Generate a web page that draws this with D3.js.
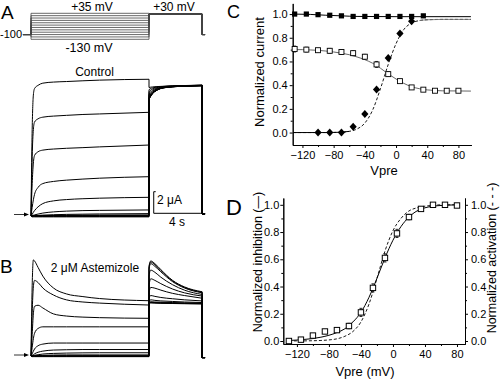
<!DOCTYPE html>
<html><head><meta charset="utf-8">
<script src="https://cdn.jsdelivr.net/npm/d3@7"></script>
<style>
body{margin:0;background:#fff}
svg{display:block}
text{font-family:"Liberation Sans",Arial,Helvetica,sans-serif;fill:#000}
</style></head>
<body><svg id="fig" width="500" height="380"></svg>
<script>
// ================= DATA =================
// Panel A protocol: prepulse levels (mV)
const protocolLevels = [-130,-115,-100,-85,-70,-55,-40,-25,-10,5,20,35];
const holdingV = -100;
const tailV = 30;
// sample times (s) for step currents
const stepTimes = [0, 0.1, 0.2, 0.3, 0.6, 1.0, 1.9, 3.0, 4.4, 5.8, 10];
// Control currents (µA), one row per prepulse level (same order as protocolLevels)
const controlStep = [
  [0,-0.08,-0.08,-0.08,-0.08,-0.08,-0.08,-0.08,-0.08,-0.08,-0.08],
  [0,-0.04,-0.04,-0.04,-0.04,-0.04,-0.04,-0.04,-0.04,-0.04,-0.04],
  [0,0,0,0,0,0,0,0,0,0,0],
  [0,0.04,0.04,0.04,0.04,0.04,0.04,0.04,0.04,0.04,0.04],
  [0,0,0.01,0.01,0.02,0.03,0.05,0.07,0.08,0.09,0.1],
  [0,0.01,0.02,0.03,0.05,0.08,0.12,0.15,0.17,0.19,0.22],
  [0,0.03,0.07,0.1,0.18,0.27,0.38,0.45,0.5,0.52,0.56],
  [0,0.15,0.35,0.5,0.85,1.15,1.4,1.52,1.6,1.65,1.73],
  [0,0.8,1.5,2.0,2.65,3.0,3.2,3.32,3.42,3.5,3.64],
  [0,3.0,4.9,5.6,5.95,6.1,6.2,6.27,6.33,6.4,6.57],
  [0,5.5,8.0,8.7,9.0,9.15,9.25,9.32,9.4,9.45,9.6],
  [0,8.0,11.2,11.8,12.1,12.3,12.4,12.45,12.52,12.58,12.66]
];
const tailTimes = [10, 10.1, 10.3, 10.6, 11, 12, 13, 14.5];
const controlTail = [
  [10.8,11.0,11.32,11.6,11.8,11.96,12.02,12.06],
  [10.82,11.02,11.34,11.61,11.81,11.96,12.02,12.06],
  [10.84,11.04,11.35,11.62,11.82,11.97,12.03,12.07],
  [10.86,11.06,11.37,11.63,11.82,11.97,12.03,12.07],
  [10.88,11.08,11.38,11.63,11.83,11.98,12.04,12.08],
  [10.9,11.1,11.4,11.64,11.83,11.98,12.04,12.08],
  [11.0,11.2,11.46,11.68,11.85,11.99,12.04,12.08],
  [11.15,11.32,11.55,11.74,11.88,12.0,12.05,12.09],
  [11.3,11.45,11.65,11.8,11.92,12.02,12.06,12.1],
  [11.5,11.62,11.76,11.87,11.95,12.03,12.07,12.1],
  [11.7,11.78,11.86,11.93,11.98,12.04,12.07,12.11],
  [11.9,11.92,11.95,11.98,12.0,12.05,12.08,12.12]
];
const controlPost = 0.2;
// Astemizole currents (µA)
const astemStep = [
  [0,-0.06,-0.06,-0.06,-0.06,-0.06,-0.06,-0.06,-0.06,-0.06,-0.06],
  [0,-0.03,-0.03,-0.03,-0.03,-0.03,-0.03,-0.03,-0.03,-0.03,-0.03],
  [0,0,0,0,0,0,0,0,0,0,0],
  [0,0.03,0.03,0.03,0.03,0.03,0.03,0.03,0.03,0.03,0.03],
  [0,0,0.01,0.02,0.04,0.06,0.09,0.1,0.1,0.1,0.1],
  [0,0.02,0.04,0.07,0.12,0.18,0.24,0.27,0.29,0.3,0.3],
  [0,0.05,0.12,0.2,0.35,0.45,0.55,0.58,0.6,0.6,0.6],
  [0,0.2,0.45,0.65,0.95,1.1,1.2,1.2,1.2,1.2,1.2],
  [0,0.8,1.6,2.1,2.55,2.7,2.7,2.7,2.7,2.7,2.7],
  [0,2.0,3.9,4.6,4.7,4.45,3.9,3.7,3.6,3.55,3.49],
  [0,4.0,6.4,7.0,6.8,6.3,5.65,5.2,5.0,4.9,4.72],
  [0,6.5,8.9,8.8,8.2,7.4,6.3,5.75,5.5,5.32,5.12]
];
const astemTailTimes = [10, 10.08, 10.15, 10.5, 11, 12, 13, 14.5];
const astemTail = [
  [4.8,4.9,4.92,4.9,4.88,4.86,4.84,4.82],
  [4.82,4.92,4.94,4.92,4.9,4.88,4.86,4.84],
  [4.85,4.95,4.97,4.95,4.93,4.9,4.88,4.86],
  [4.9,5.0,5.02,5.0,4.98,4.95,4.92,4.9],
  [5.0,5.15,5.2,5.15,5.1,5.05,5.0,4.95],
  [5.3,5.55,5.6,5.52,5.42,5.3,5.2,5.1],
  [5.9,6.25,6.35,6.28,6.1,5.8,5.6,5.35],
  [6.6,7.0,7.15,7.0,6.7,6.2,5.85,5.55],
  [7.4,7.85,7.95,7.75,7.3,6.6,6.1,5.7],
  [8.0,8.45,8.55,8.3,7.8,6.88,6.3,5.85],
  [8.2,8.6,8.7,8.45,7.92,6.95,6.35,5.9],
  [8.3,8.7,8.8,8.55,8.0,7.0,6.4,5.95]
];
const astemPost = -0.15;
// scale bars: 2 µA, 4 s
const scaleBarI = 2;
const scaleBarT = 4;

// Panel C
const cFilledV = [-130,-115,-100,-85,-70,-55,-40,-25,-10,5,20,35];
const cFilledI = [1.0,1.0,0.995,0.99,0.985,0.98,0.98,0.98,0.98,0.98,0.98,0.985];
const cFilledFitV = [-132,-110,-90,-70,-50,0,96];
const cFilledFitI = [1.0,0.997,0.99,0.985,0.98,0.978,0.978];
const cOpenV = [-130,-115,-100,-85,-70,-55,-40,-25,-10,5,20,35,50,65,80];
const cOpenI = [0.705,0.70,0.695,0.69,0.68,0.67,0.64,0.575,0.493,0.434,0.381,0.362,0.353,0.353,0.353];
const cOpenErr = [0.025,0.02,0.015,0.02,0.02,0.02,0.02,0.025,0.02,0.012,0.01,0.008,0.008,0.008,0.008];
const cOpenFitV = [-132,-120,-110,-100,-90,-80,-70,-60,-50,-40,-30,-20,-10,0,10,20,30,40,50,60,80,96];
const cOpenFitI = [0.70,0.70,0.697,0.694,0.688,0.68,0.67,0.657,0.638,0.615,0.585,0.543,0.495,0.452,0.415,0.387,0.37,0.36,0.355,0.352,0.351,0.35];
const cDiamV = [-100,-85,-70,-55,-40,-25,-10,5,20];
const cDiamI = [0.0,0.0,0.0,0.049,0.156,0.364,0.63,0.837,0.94];
const cActFitV = [-132,-90,-80,-70,-60,-50,-40,-30,-20,-10,0,10,20,30,40,60,96];
const cActFitI = [0,0,0.001,0.003,0.01,0.03,0.08,0.19,0.37,0.575,0.75,0.87,0.925,0.945,0.952,0.955,0.955];

// Panel D
const dV = [-130,-115,-100,-85,-70,-55,-40,-25,-10,5,20,35,50,65,80];
const dInhib = [0.0,0.01,0.04,0.07,0.08,0.11,0.21,0.39,0.61,0.79,0.91,0.97,1.0,1.0,0.995];
const dErr = [0.008,0.008,0.01,0.012,0.012,0.02,0.03,0.03,0.03,0.03,0.02,0.01,0.01,0.008,0.008];
const dFitV = [-130,-120,-110,-100,-90,-80,-70,-60,-50,-40,-30,-20,-10,0,10,20,30,40,50,60,70,80];
const dInhibFit = [0.004,0.007,0.012,0.018,0.028,0.042,0.062,0.09,0.14,0.21,0.32,0.46,0.61,0.74,0.84,0.91,0.955,0.978,0.99,0.995,0.998,1.0];
const dActFit = [0,0.001,0.001,0.002,0.004,0.008,0.016,0.035,0.07,0.14,0.27,0.46,0.66,0.81,0.9,0.955,0.978,0.99,0.996,1.0,1.0,1.0];

const ticksC = [-120,-80,-40,0,40,80];
const ticksY = [0,0.2,0.4,0.6,0.8,1.0];

// ================= DRAW =================
const svg = d3.select("#fig");
svg.append("rect").attr("width",500).attr("height",380).attr("fill","#fff");

// ---- time/voltage/current scales for A & B ----
const tS = d3.scaleLinear().domain([0,10]).range([31,149]);
const vS = d3.scaleLinear().domain([-130,35]).range([39.3,13.3]);
const iA = d3.scaleLinear().domain([0,1]).range([216,205.2]);
const iB = d3.scaleLinear().domain([0,1]).range([356,345.2]);

function txt(x,y,s,size,anchor){
  return svg.append("text").attr("x",x).attr("y",y).attr("font-size",size)
    .attr("text-anchor",anchor||"start").text(s);
}

// protocol
const gP = svg.append("g");
const lineP = d3.line().x(d=>tS(d[0])).y(d=>vS(d[1]));
protocolLevels.forEach(v=>{
  const pts = [[-0.68,holdingV],[0,holdingV],[0,v],[10,v],[10,tailV],[14.5,tailV],[14.5,holdingV],[14.75,holdingV]];
  gP.append("path").attr("d",lineP(pts)).attr("fill","none").attr("stroke","#444").attr("stroke-width",0.8);
});
txt(1,19,"A",19);
txt(92,11,"+35 mV",12,"middle");
txt(174,11,"+30 mV",12,"middle");
txt(89,52,"-130 mV",12.5,"middle");
txt(11,38,"-100",11,"middle");

function drawTraces(yS, stepVals, tailT, tailVals, post){
  const g = svg.append("g");
  const lc = d3.line().x(d=>tS(d[0])).y(d=>yS(d[1])).curve(d3.curveMonotoneX);
  const ll = d3.line().x(d=>tS(d[0])).y(d=>yS(d[1]));
  stepVals.forEach((sv,k)=>{
    const step = stepTimes.map((t,i)=>[t,sv[i]]);
    const tail = tailT.map((t,i)=>[t,tailVals[k][i]]);
    [lc(step), lc(tail), ll([step[step.length-1],tail[0]]),
     ll([tail[tail.length-1],[14.5,post],[14.75,post]])].forEach(d=>{
      g.append("path").attr("d",d).attr("fill","none").attr("stroke","#000").attr("stroke-width",1);
    });
  });
}
drawTraces(iA, controlStep, tailTimes, controlTail, controlPost);
drawTraces(iB, astemStep, astemTailTimes, astemTail, astemPost);

txt(94.5,76,"Control",12,"middle");
txt(0,273,"B",19);
txt(95,272,"2 \u03bcM Astemizole",12,"middle");

// arrows
function arrow(y){
  svg.append("line").attr("x1",14).attr("x2",25).attr("y1",y).attr("y2",y).attr("stroke","#000").attr("stroke-width",0.8);
  svg.append("path").attr("d",`M${29},${y}L${24},${y-2}L${24},${y+2}Z`).attr("fill","#000");
}
arrow(iA(0)-1.5);
arrow(iB(0)-1);

// scale bars (2 µA vertical, 4 s horizontal)
const sbX = tS(10.4);
const sbBase = iA(0.25);
const sbTop = sbBase - (iA(0) - iA(scaleBarI));
svg.append("path").attr("d",`M${sbX+2},${sbTop}H${sbX}V${sbBase}H${sbX+tS(scaleBarT)-tS(0)}`)
  .attr("fill","none").attr("stroke","#000").attr("stroke-width",1);
txt(157,204,"2 \u03bcA",12);
txt(177,226,"4 s",12,"middle");

// ---------- Panel C ----------
const xC = d3.scaleLinear().domain([-132.5,96.5]).range([292.7,471.3]);
const yC = d3.scaleLinear().domain([-0.105,1.09]).range([145,3.4]);
const gC = svg.append("g");
function styleAxis(g){
  g.selectAll("path,line").attr("stroke","#000").attr("stroke-width",1);
  g.selectAll("text").attr("font-size",11).attr("font-family",'"Liberation Sans",Arial,sans-serif');
}
gC.append("g").attr("transform",`translate(0,145)`)
  .call(d3.axisBottom(xC).tickValues(ticksC).tickSize(3).tickPadding(3).tickSizeOuter(0))
  .call(styleAxis);
gC.append("g").attr("transform",`translate(0,145)`)
  .call(d3.axisBottom(xC).tickValues([-100,-60,-20,20,60]).tickSize(2).tickFormat("").tickSizeOuter(0))
  .call(styleAxis);
gC.append("g").attr("transform",`translate(292.7,0)`)
  .call(d3.axisLeft(yC).tickValues(ticksY).tickFormat(d3.format(".1f")).tickSize(3).tickPadding(2).tickSizeOuter(0))
  .call(styleAxis);
gC.append("g").attr("transform",`translate(292.7,0)`)
  .call(d3.axisLeft(yC).tickValues([0.1,0.3,0.5,0.7,0.9]).tickFormat("").tickSize(2).tickSizeOuter(0))
  .call(styleAxis);
txt(227,18,"C",18);
txt(384,175,"Vpre",13,"middle");
svg.append("text").attr("transform","translate(264,72) rotate(-90)").attr("text-anchor","middle")
  .attr("font-size",13).text("Normalized current");

const lineCv = d3.line().x(d=>xC(d[0])).y(d=>yC(d[1])).curve(d3.curveMonotoneX);
gC.append("path").attr("d",lineCv(cFilledFitV.map((v,i)=>[v,cFilledFitI[i]])))
  .attr("fill","none").attr("stroke","#000").attr("stroke-width",1);
gC.append("path").attr("d",lineCv(cOpenFitV.map((v,i)=>[v,cOpenFitI[i]])))
  .attr("fill","none").attr("stroke","#555").attr("stroke-width",0.9);
const actPts = cActFitV.map((v,i)=>[v,cActFitI[i]]);
gC.append("path").attr("d",lineCv(actPts.filter(d=>d[0]<=-60)))
  .attr("fill","none").attr("stroke","#000").attr("stroke-width",1);
gC.append("path").attr("d",lineCv(actPts))
  .attr("fill","none").attr("stroke","#000").attr("stroke-width",0.9).attr("stroke-dasharray","3,2");
gC.append("path").attr("d",lineCv(actPts.filter(d=>d[0]>=30)))
  .attr("fill","none").attr("stroke","#777").attr("stroke-width",0.9);
cOpenV.forEach((v,i)=>{
  const x=xC(v), y1=yC(cOpenI[i]-cOpenErr[i]), y2=yC(cOpenI[i]+cOpenErr[i]);
  gC.append("path").attr("d",`M${x},${y1}V${y2}M${x-1.5},${y1}H${x+1.5}M${x-1.5},${y2}H${x+1.5}`)
    .attr("stroke","#000").attr("stroke-width",0.8).attr("fill","none");
});
cOpenV.forEach((v,i)=>{
  gC.append("rect").attr("x",xC(v)-2.5).attr("y",yC(cOpenI[i])-2.5).attr("width",5).attr("height",5)
    .attr("fill","#fff").attr("stroke","#000").attr("stroke-width",0.9);
});
cFilledV.forEach((v,i)=>{
  gC.append("rect").attr("x",xC(v)-2.6).attr("y",yC(cFilledI[i])-2.6).attr("width",5.2).attr("height",5.2)
    .attr("fill","#000");
});
cDiamV.forEach((v,i)=>{
  const x=xC(v), y=yC(cDiamI[i]);
  gC.append("path").attr("d",`M${x},${y-4}L${x+3.6},${y}L${x},${y+4}L${x-3.6},${y}Z`).attr("fill","#000");
});

// ---------- Panel D ----------
const xD = d3.scaleLinear().domain([-137,90]).range([283.3,465]);
const yD = d3.scaleLinear().domain([-0.022,1.05]).range([344,198]);
const gD = svg.append("g");
gD.append("g").attr("transform",`translate(0,344)`)
  .call(d3.axisBottom(xD).tickValues(ticksC).tickSize(3).tickPadding(3).tickSizeOuter(0))
  .call(styleAxis);
gD.append("g").attr("transform",`translate(0,344)`)
  .call(d3.axisBottom(xD).tickValues([-100,-60,-20,20,60]).tickSize(2).tickFormat("").tickSizeOuter(0))
  .call(styleAxis);
gD.append("g").attr("transform",`translate(283.3,0)`)
  .call(d3.axisLeft(yD).tickValues(ticksY).tickFormat(d3.format(".1f")).tickSize(3).tickPadding(1).tickSizeOuter(0))
  .call(styleAxis);
gD.append("g").attr("transform",`translate(283.3,0)`)
  .call(d3.axisLeft(yD).tickValues([0.1,0.3,0.5,0.7,0.9]).tickFormat("").tickSize(2).tickSizeOuter(0))
  .call(styleAxis);
gD.append("g").attr("transform",`translate(465,0)`)
  .call(d3.axisRight(yD).tickValues(ticksY).tickFormat(d3.format(".1f")).tickSize(3).tickPadding(3).tickSizeOuter(0))
  .call(styleAxis);
gD.append("g").attr("transform",`translate(465,0)`)
  .call(d3.axisRight(yD).tickValues([0.1,0.3,0.5,0.7,0.9]).tickFormat("").tickSize(2).tickSizeOuter(0))
  .call(styleAxis);
txt(226,215,"D",22);
txt(365,376,"Vpre (mV)",13,"middle");
svg.append("text").attr("transform","translate(262,262) rotate(-90)").attr("text-anchor","middle")
  .attr("font-size",12.5).text("Normalized inhibition (\u2014)");
svg.append("text").attr("transform","translate(496,258) rotate(-90)").attr("text-anchor","middle")
  .attr("font-size",12.5).text("Normalized activation (- - -)");

const lineDv = d3.line().x(d=>xD(d[0])).y(d=>yD(d[1])).curve(d3.curveMonotoneX);
gD.append("path").attr("d",lineDv(dFitV.map((v,i)=>[v,dActFit[i]])))
  .attr("fill","none").attr("stroke","#000").attr("stroke-width",0.9).attr("stroke-dasharray","3,2");
gD.append("path").attr("d",lineDv(dFitV.map((v,i)=>[v,dInhibFit[i]])))
  .attr("fill","none").attr("stroke","#000").attr("stroke-width",1);
dV.forEach((v,i)=>{
  const x=xD(v), y1=yD(dInhib[i]-dErr[i]), y2=yD(dInhib[i]+dErr[i]);
  gD.append("path").attr("d",`M${x},${y1}V${y2}M${x-1.5},${y1}H${x+1.5}M${x-1.5},${y2}H${x+1.5}`)
    .attr("stroke","#000").attr("stroke-width",0.8).attr("fill","none");
});
dV.forEach((v,i)=>{
  gD.append("rect").attr("x",xD(v)-2.7).attr("y",yD(dInhib[i])-2.7).attr("width",5.4).attr("height",5.4)
    .attr("fill","#fff").attr("stroke","#000").attr("stroke-width",1);
});
</script></body></html>
